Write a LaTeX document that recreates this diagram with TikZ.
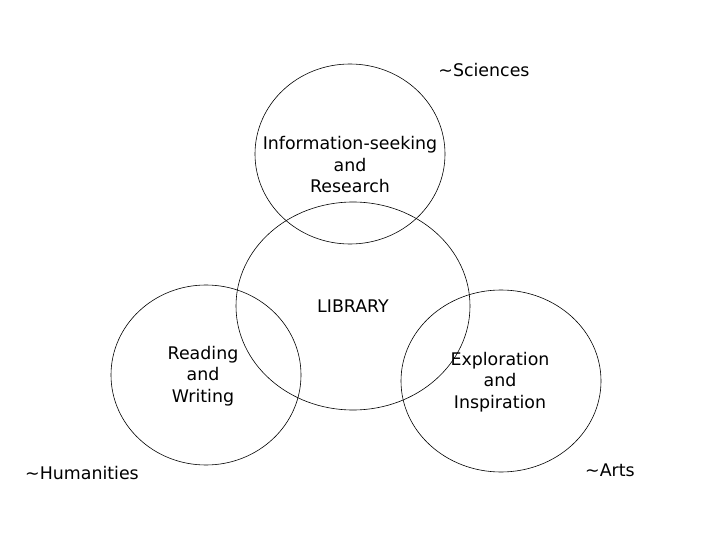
\documentclass[tikz,border=0pt]{standalone}
\usepackage{fontspec}
\setmainfont{DejaVu Sans}
\usetikzlibrary{positioning}
\tikzset{font=\fontsize{17.4}{21.5}\selectfont}
\tikzset{every node/.append style={align=center,inner sep=0pt}}

\begin{document}
\begin{tikzpicture}[x=1pt,y=-1pt,line width=.6pt]
  \useasboundingbox (0,0) rectangle (720,540);
  \draw (350,154) ellipse (95 and 90);
  \draw (353,306) ellipse (117 and 104);
  \draw (206,375) ellipse (95 and 90);
  \draw (501,381) ellipse (100 and 91);

  \node (research) at (350,165) {Information-seeking\\and\\Research};
  \node (library) at (353,306) {LIBRARY};
  \node (reading) at (203,376) {Reading\\and\\Writing};
  \node (explore) at (500,382) {Exploration\\and\\Inspiration};

  \node (sciences) at (484,70) {\textasciitilde Sciences};
  \node (humanities) at (82,473) {\textasciitilde Humanities};
  \node (arts) at (610,470) {\textasciitilde Arts};

\end{tikzpicture}
\end{document}
